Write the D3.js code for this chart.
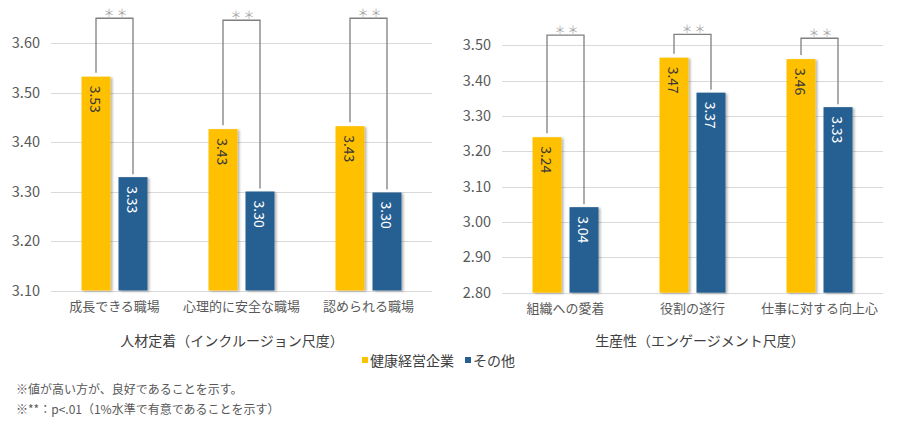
<!DOCTYPE html>
<html>
<head>
<meta charset="utf-8">
<script src="https://cdn.jsdelivr.net/npm/d3@7"></script>
<style>
  body { margin: 0; background: #fff; }
  text { font-family: "Noto Sans CJK JP", "Noto Sans", sans-serif; }
</style>
</head>
<body>
<div id="chart"></div>
<script>
// series
const seriesNames = ["健康経営企業", "その他"];
const seriesColors = ["#FFC000", "#255E91"];
const labelColors = ["#3a3a3a", "#ffffff"];

// left panel: 人材定着
const leftCategories = ["成長できる職場", "心理的に安全な職場", "認められる職場"];
const leftHealth = [3.532, 3.426, 3.432];
const leftOther = [3.329, 3.300, 3.298];
const leftLabelsHealth = ["3.53", "3.43", "3.43"];
const leftLabelsOther = ["3.33", "3.30", "3.30"];
const leftTicks = [3.10, 3.20, 3.30, 3.40, 3.50, 3.60];
const leftSigLevel = [3.65, 3.646, 3.65];

// right panel: 生産性
const rightCategories = ["組織への愛着", "役割の遂行", "仕事に対する向上心"];
const rightHealth = [3.24, 3.465, 3.461];
const rightOther = [3.042, 3.366, 3.325];
const rightLabelsHealth = ["3.24", "3.47", "3.46"];
const rightLabelsOther = ["3.04", "3.37", "3.33"];
const rightTicks = [2.80, 2.90, 3.00, 3.10, 3.20, 3.30, 3.40, 3.50];
const rightSigLevel = [3.529, 3.531, 3.52];

const titles = ["人材定着（インクルージョン尺度）", "生産性（エンゲージメント尺度）"];
const notes = ["※値が高い方が、良好であることを示す。", "※**：p<.01（1%水準で有意であることを示す）"];

const W = 898, H = 433;
const svg = d3.select("#chart").append("svg")
    .attr("width", W)
    .attr("height", H);

svg.append("rect").attr("width", W).attr("height", H).attr("fill", "#fff");

const defs = svg.append("defs");
defs.append("filter")
    .attr("id", "shadow")
    .attr("x", "-20%").attr("y", "-5%").attr("width", "150%").attr("height", "115%")
    .append("feDropShadow")
        .attr("dx", 2).attr("dy", 1)
        .attr("stdDeviation", 1.2)
        .attr("flood-color", "#000")
        .attr("flood-opacity", 0.28);

const drawPanel = (p) => {
    let g = svg.append("g");

    let x = d3.scaleBand()
        .domain(p.categories)
        .range(p.xRange);
    let inner = d3.scaleBand()
        .domain([0, 1])
        .range([-33, 33])
        .paddingInner(0.216);
    let y = d3.scaleLinear()
        .domain(p.yDomain)
        .range(p.yRange);

    // gridlines
    g.selectAll(".grid").data(p.ticks).join("line")
        .attr("x1", p.xRange[0]).attr("x2", p.xRange[1])
        .attr("y1", d => Math.round(y(d)) + 0.5)
        .attr("y2", d => Math.round(y(d)) + 0.5)
        .attr("stroke", "#d9d9d9")
        .attr("stroke-width", 1);

    // y axis labels
    let axis = d3.axisLeft(y).tickValues(p.ticks).tickFormat(d3.format(".2f")).tickSize(0).tickPadding(11);
    let ax = g.append("g").attr("transform", `translate(${p.xRange[0]},0)`).call(axis);
    ax.select(".domain").remove();
    ax.selectAll("text")
        .attr("font-size", 14.5)
        .attr("fill", "#595959")
        .style("font-family", "'Noto Sans CJK JP', sans-serif");

    // category labels
    g.selectAll(".cat").data(p.categories).join("text")
        .attr("x", d => x(d) + x.bandwidth() / 2)
        .attr("y", p.yRange[0] + 15)
        .attr("text-anchor", "middle")
        .attr("dominant-baseline", "central")
        .attr("font-size", 13)
        .attr("fill", "#595959")
        .text(d => d);

    let series = [p.health, p.other];
    let labels = [p.labelsHealth, p.labelsOther];

    series.forEach((vals, s) => {
        g.selectAll(`.bar${s}`).data(vals).join("rect")
            .attr("x", (d, i) => x(p.categories[i]) + x.bandwidth() / 2 + inner(s))
            .attr("y", d => y(d))
            .attr("width", inner.bandwidth())
            .attr("height", d => y(p.yDomain[0]) - y(d))
            .attr("fill", seriesColors[s])
            .attr("filter", "url(#shadow)");
    });

    series.forEach((vals, s) => {
        g.selectAll(`.lab${s}`).data(vals).join("text")
            .attr("transform", (d, i) => {
                let cx = x(p.categories[i]) + x.bandwidth() / 2 + inner(s) + inner.bandwidth() / 2;
                return `translate(${cx},${y(d) + 9}) rotate(90)`;
            })
            .attr("dominant-baseline", "central")
            .attr("font-size", 14)
            .attr("fill", labelColors[s])
            .text((d, i) => labels[s][i]);
    });

    // significance brackets
    p.categories.forEach((c, i) => {
        let cx = x(c) + x.bandwidth() / 2;
        let xa = cx + inner(0) + inner.bandwidth() / 2;
        let xb = cx + inner(1) + inner.bandwidth() / 2;
        let yt = y(p.sig[i]);
        g.append("path")
            .attr("d", `M${xa},${y(p.health[i]) - 4}V${yt}H${xb}V${y(p.other[i]) - 3}`)
            .attr("fill", "none")
            .attr("stroke", "#7f7f7f")
            .attr("stroke-width", 1.3);
        g.append("text")
            .attr("x", (xa + xb) / 2 + 2)
            .attr("y", yt - 6)
            .attr("text-anchor", "middle")
            .attr("dominant-baseline", "central")
            .attr("font-size", 11)
            .attr("letter-spacing", 2)
            .attr("fill", "#a6a6a6")
            .text("＊＊");
    });

    // panel title
    g.append("text")
        .attr("x", p.titleX)
        .attr("y", 340)
        .attr("text-anchor", "middle")
        .attr("dominant-baseline", "central")
        .attr("font-size", 14)
        .attr("fill", "#404040")
        .text(p.title);
};

drawPanel({
    categories: leftCategories, health: leftHealth, other: leftOther,
    labelsHealth: leftLabelsHealth, labelsOther: leftLabelsOther,
    ticks: leftTicks, sig: leftSigLevel,
    xRange: [51, 432], yDomain: [3.10, 3.60], yRange: [290.5, 43],
    title: titles[0], titleX: 232
});

drawPanel({
    categories: rightCategories, health: rightHealth, other: rightOther,
    labelsHealth: rightLabelsHealth, labelsOther: rightLabelsOther,
    ticks: rightTicks, sig: rightSigLevel,
    xRange: [502, 883], yDomain: [2.80, 3.50], yRange: [292.7, 45.3],
    title: titles[1], titleX: 700
});

// legend
const legendX = [362, 465];
const leg = svg.append("g");
seriesNames.forEach((n, i) => {
    leg.append("rect")
        .attr("x", legendX[i]).attr("y", 357)
        .attr("width", 6).attr("height", 6)
        .attr("fill", seriesColors[i]);
    leg.append("text")
        .attr("x", legendX[i] + 8).attr("y", 360)
        .attr("dominant-baseline", "central")
        .attr("font-size", 14)
        .attr("fill", "#404040")
        .text(n);
});

// footnotes
svg.selectAll(".note").data(notes).join("text")
    .attr("x", 16)
    .attr("y", (d, i) => 388 + i * 20)
    .attr("dominant-baseline", "central")
    .attr("font-size", 12)
    .attr("fill", "#595959")
    .text(d => d);
</script>
</body>
</html>
